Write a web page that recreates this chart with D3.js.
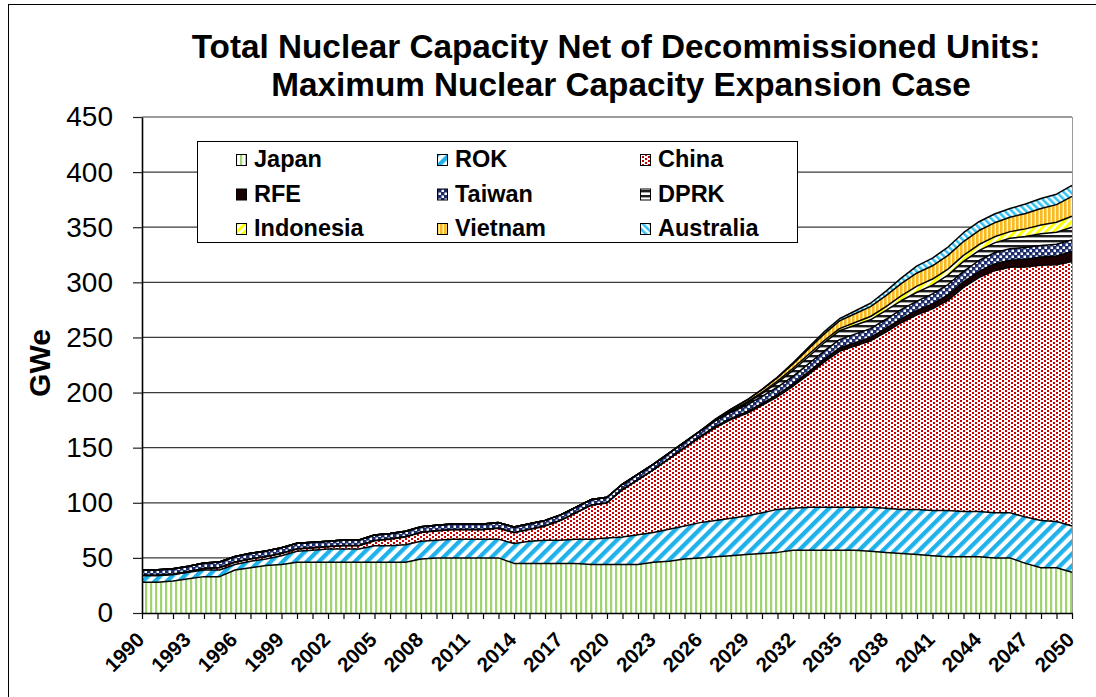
<!DOCTYPE html>
<html><head><meta charset="utf-8">
<script src="https://cdn.jsdelivr.net/npm/d3@7"></script>
<style>
html,body{margin:0;padding:0;background:#fff;}
svg{display:block;font-family:"Liberation Sans",Arial,sans-serif;}
</style></head><body>
<svg id="chart" width="1096" height="697"></svg>
<script>
// ---------- DATA ----------
const years = [1990,1991,1992,1993,1994,1995,1996,1997,1998,1999,
  2000,2001,2002,2003,2004,2005,2006,2007,2008,2009,
  2010,2011,2012,2013,2014,2015,2016,2017,2018,2019,
  2020,2021,2022,2023,2024,2025,2026,2027,2028,2029,
  2030,2031,2032,2033,2034,2035,2036,2037,2038,2039,
  2040,2041,2042,2043,2044,2045,2046,2047,2048,2049,2050];
const xTickLabels = ["1990","1993","1996","1999","2002","2005","2008","2011","2014","2017","2020",
  "2023","2026","2029","2032","2035","2038","2041","2044","2047","2050"];
const yTicks = [0,50,100,150,200,250,300,350,400,450];
const seriesNames = ["Japan","ROK","China","RFE","Taiwan","DPRK","Indonesia","Vietnam","Australia"];

const japan = [28,28,29,31,33,33,39,41,43,44, 46,46,46,46,46,46,46,46,49,50,
  50,50,50,50,45,45,45,45,45,44, 44,44,44,46,47,49,50,51,52,53,
  54,55,57,57,57,57,57,56,55,54, 53,52,51,51,51,50,50,45,41,41, 37];
const rok = [6,6,6,6,6,6,5,6,6,8, 10,11,12,12,12,15,15,16,16,16,
  17,17,17,17,18,20,21,21,22,23, 24,25,27,27,29,30,32,33,34,35,
  37,39,38,39,39,39,39,40,40,40, 41,41,42,41,41,41,41,42,43,42, 42];
const china = [0,0,0,0.3,1.2,2,2,2,2,2, 2,2,2,3,3,4.5,6,7,8,8.5,
  8.5,8.5,8.5,9.8,9.8,10.8,12.8,17.8,23.8,30.8, 31.8,42.8,49.8,56.8,63.8,70.8,77.3,84.3,89.5,93,
  97.5,102.2,110.7,120.3,131.6,141.4,146.2,151,159.8,169.6, 176.5,183,190.7,203.4,212.3,219.6,222.6,227,231.4,232.9, 239.9];
const rfe = [0.3,0.3,0.3,0.3,0.3,0.3,0.3,0.3,0.3,0.3, 0.3,0.3,0.3,0.3,0.3,0.3,0.3,0.3,0.3,0.3,
  0.3,0.3,0.3,0.3,0.3,0.3,0.3,0.3,0.3,0.3, 0.3,0.3,0.3,0.3,0.3,0.3,0.7,1,1,1.5,
  1.5,2,2,2.5,2.5,3,3,3,3.5,3.5, 4,4.5,5,5,5.5,6,6.5,7,7.5,8, 9];
const taiwan = [4.9,4.9,4.9,4.9,4.9,4.9,4.9,4.9,4.9,4.9, 4.9,4.9,4.9,4.9,4.9,4.9,4.9,4.9,4.9,4.9,
  4.9,4.9,4.9,4.9,4.9,4.9,4.9,4.9,4.9,4.9, 4.9,4.9,4.9,4.9,4.9,5,5,5.2,5.5,6,
  6.5,6.8,7,7.2,7.4,7.6,7.8,8,8.2,8.4, 8.5,9,9.3,9.6,10,10.2,10.4,10.5,10.6,10.6, 10.6];
const dprk = [0,0,0,0,0,0,0,0,0,0, 0,0,0,0,0,0,0,0,0,0,
  0,0,0,0,0,0,0,0,0,0, 0,0,0,0,0,0,0,0,0.5,1.5,
  2.5,4,5.5,6.5,7.5,8,8,8,8,8, 8,8,8.5,9,9,9,9.5,10,10.5,11, 11.5];
const indonesia = [0,0,0,0,0,0,0,0,0,0, 0,0,0,0,0,0,0,0,0,0,
  0,0,0,0,0,0,0,0,0,0, 0,0,0,0,0,0,0,0.5,1,1,
  1.2,1.5,1.8,2,2,2,2.5,3,3.5,4.5, 5.5,5.5,5.5,5.5,5.5,5.5,6,7,8,9, 10];
const vietnam = [0,0,0,0,0,0,0,0,0,0, 0,0,0,0,0,0,0,0,0,0,
  0,0,0,0,0,0,0,0,0,0, 0,0,0,0,0,0,0,1,1.5,2,
  2.5,3,4,5,6,7,8,9,10,11, 12,12,12.5,12.5,12.7,12.7,13,14,15,16, 18];
const australia = [0,0,0,0,0,0,0,0,0,0, 0,0,0,0,0,0,0,0,0,0,
  0,0,0,0,0,0,0,0,0,0, 0,0,0,0,0,0,0,0,0,0,
  0.3,0.5,1,1.5,2,2,2.5,3,4,5, 6.5,7,7.5,8,8,8,8,8.5,9,9.5, 10];

const seriesValues = [japan, rok, china, rfe, taiwan, dprk, indonesia, vietnam, australia];
const table = years.map((yr, i) => {
  const row = {year: yr};
  seriesNames.forEach((k, j) => row[k] = seriesValues[j][i]);
  return row;
});

// ---------- CHART ----------
const svg = d3.select('#chart');
const defs = svg.append('defs');

function stripes(id, size, angle, color, w, bg) {
  const p = defs.append('pattern').attr('id', id).attr('patternUnits', 'userSpaceOnUse')
    .attr('width', size).attr('height', size).attr('patternTransform', `rotate(${angle})`);
  p.append('rect').attr('width', size).attr('height', size).attr('fill', bg || '#fff');
  p.append('rect').attr('x', 0).attr('y', 0).attr('width', w).attr('height', size).attr('fill', color);
}
stripes('pJapan', 5, 0, '#9fd46e', 2.2);
stripes('pROK', 8.5, 45, '#1eb1ea', 4.3);
stripes('pDPRK', 5, 90, '#1c1c1c', 2.4);
stripes('pIndonesia', 5.5, 45, '#ffff00', 3);
stripes('pVietnam', 4, 0, '#f9b921', 2.6, '#fff3d0');
stripes('pAustralia', 5, -45, '#35c2f0', 2.6);
{
  const p = defs.append('pattern').attr('id', 'pChina').attr('patternUnits', 'userSpaceOnUse')
    .attr('width', 6).attr('height', 4);
  p.append('rect').attr('width', 6).attr('height', 4).attr('fill', '#fff');
  p.append('rect').attr('x', 0).attr('y', 0).attr('width', 2).attr('height', 2).attr('fill', '#cc0000')
    .attr('shape-rendering', 'crispEdges');
  p.append('rect').attr('x', 3).attr('y', 2).attr('width', 2).attr('height', 2).attr('fill', '#cc0000')
    .attr('shape-rendering', 'crispEdges');
}
{
  const p = defs.append('pattern').attr('id', 'pTaiwan').attr('patternUnits', 'userSpaceOnUse')
    .attr('width', 6).attr('height', 6);
  p.append('rect').attr('width', 6).attr('height', 6).attr('fill', '#1d2c6a');
  p.append('rect').attr('x', 0.5).attr('y', 0.5).attr('width', 2.5).attr('height', 2.5).attr('fill', '#fff');
  p.append('rect').attr('x', 3.5).attr('y', 3.5).attr('width', 2.5).attr('height', 2.5).attr('fill', '#fff');
}
const fills = {
  Japan: 'url(#pJapan)', ROK: 'url(#pROK)', China: 'url(#pChina)', RFE: '#1a0000',
  Taiwan: 'url(#pTaiwan)', DPRK: 'url(#pDPRK)', Indonesia: 'url(#pIndonesia)',
  Vietnam: 'url(#pVietnam)', Australia: 'url(#pAustralia)'
};

// outer frame
svg.append('rect').attr('x', 8.5).attr('y', 4.5).attr('width', 1100).attr('height', 700)
  .attr('fill', 'none').attr('stroke', '#000').attr('stroke-width', 1);

const x = d3.scaleLinear().domain([1990, 2050]).range([142, 1072]);
const y = d3.scaleLinear().domain([0, 450]).range([613, 117]);

// gridlines
svg.append('g').selectAll('line').data(yTicks.filter(d => d > 0)).join('line')
  .attr('x1', 142).attr('x2', 1072).attr('y1', d => y(d)).attr('y2', d => y(d))
  .attr('stroke', '#3a3a3a').attr('stroke-width', 1.2);

// right plot edge
svg.append('line').attr('x1', 1072.5).attr('x2', 1072.5).attr('y1', 117).attr('y2', 613)
  .attr('stroke', '#9a9a9a').attr('stroke-width', 1);

const stack = d3.stack().keys(seriesNames)(table);
const area = d3.area().x(d => x(d.data.year)).y0(d => y(d[0])).y1(d => y(d[1]));
const topLine = d3.line().x(d => x(d.data.year)).y(d => y(d[1]));

svg.append('g').selectAll('path').data(stack).join('path')
  .attr('d', area).attr('fill', d => fills[d.key]);
svg.append('g').selectAll('path').data(stack).join('path')
  .attr('d', topLine).attr('fill', 'none').attr('stroke', '#000').attr('stroke-width', 1.5)
  .attr('stroke-linejoin', 'round');

// y axis
const yAxis = svg.append('g').attr('transform', 'translate(142,0)')
  .call(d3.axisLeft(y).tickValues(yTicks).tickSize(9).tickSizeOuter(0).tickPadding(20));
yAxis.select('.domain').attr('stroke', '#000').attr('stroke-width', 1.6);
yAxis.selectAll('.tick line').attr('stroke', '#222').attr('stroke-width', 1.2);
yAxis.selectAll('.tick text').attr('font-size', 28).attr('fill', '#000')
  .attr('font-family', '"Liberation Sans",Arial,sans-serif');

// x axis ticks (every year)
const xAxis = svg.append('g').attr('transform', 'translate(0,613)')
  .call(d3.axisBottom(x).tickValues(years).tickSize(6).tickSizeOuter(0).tickFormat(''));
xAxis.select('.domain').attr('stroke', '#000').attr('stroke-width', 1.6);
xAxis.selectAll('.tick line').attr('stroke', '#000').attr('stroke-width', 1.2);

// x labels (every third year)
const xLab = svg.append('g').attr('transform', 'translate(0,613)')
  .call(d3.axisBottom(x).tickValues(xTickLabels.map(Number)).tickSize(0).tickFormat(d3.format('d')));
xLab.select('.domain').remove();
xLab.selectAll('.tick text').attr('x', 0).attr('y', 0).attr('dy', 0)
  .attr('transform', 'translate(3,28) rotate(-45)').attr('text-anchor', 'end')
  .attr('font-size', 20.5).attr('font-weight', 'bold').attr('fill', '#000')
  .attr('font-family', '"Liberation Sans",Arial,sans-serif');

// y title
svg.append('text').attr('transform', 'translate(50,363) rotate(-90)').attr('text-anchor', 'middle')
  .attr('font-size', 30).attr('font-weight', 'bold').text('GWe');

// title
svg.append('text').attr('x', 616).attr('y', 57.5).attr('text-anchor', 'middle')
  .attr('font-size', 33.3).attr('font-weight', 'bold').text('Total Nuclear Capacity Net of Decommissioned Units:');
svg.append('text').attr('x', 621).attr('y', 95.5).attr('text-anchor', 'middle')
  .attr('font-size', 33.3).attr('font-weight', 'bold').text('Maximum Nuclear Capacity Expansion Case');

// legend
const lg = svg.append('g');
lg.append('rect').attr('x', 197.5).attr('y', 141.5).attr('width', 600).attr('height', 101)
  .attr('fill', '#fff').attr('stroke', '#000').attr('stroke-width', 1);
const colX = [236, 437, 640];
const rowY = [167, 201.5, 236];
seriesNames.forEach((k, i) => {
  const cx = colX[i % 3], cy = rowY[Math.floor(i / 3)];
  lg.append('rect').attr('x', cx + 0.5).attr('y', cy - 12.5).attr('width', 10).attr('height', 11)
    .attr('fill', fills[k]).attr('stroke', '#000').attr('stroke-width', 1);
  lg.append('text').attr('x', cx + 18).attr('y', cy).attr('font-size', 23.5).attr('font-weight', 'bold').text(k);
});
</script>
</body></html>
